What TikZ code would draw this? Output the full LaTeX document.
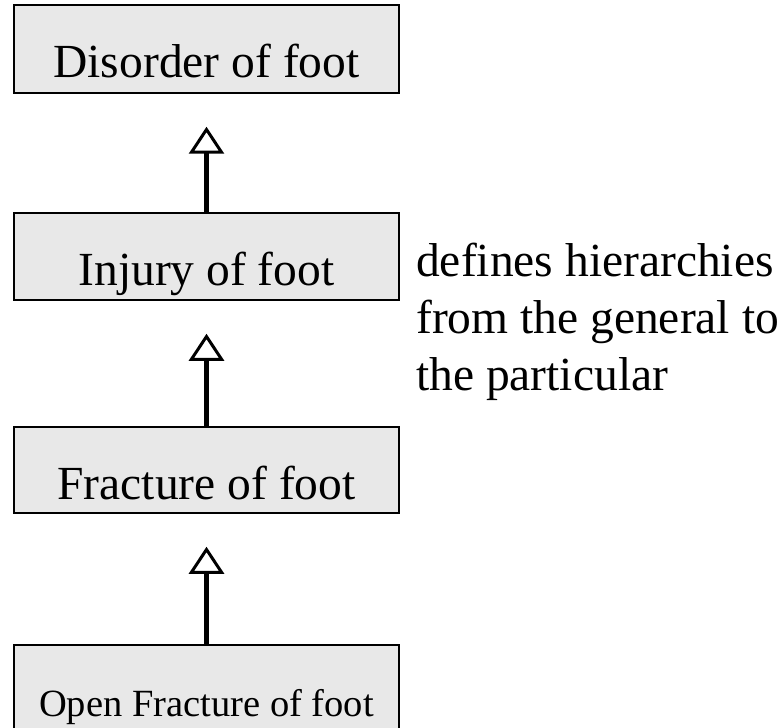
\documentclass[tikz,border=0pt]{standalone}
\usepackage{fontspec}
\setmainfont{Liberation Serif}
\usetikzlibrary{arrows.meta}
\definecolor{boxgray}{RGB}{232,232,232}
\tikzset{
  classbox/.style={draw=black, fill=boxgray, line width=1.5pt, inner sep=0pt,
    minimum width=385pt, minimum height=88pt,
    font=\fontsize{47.5}{57}\selectfont, text height=60pt, text depth=2pt},
  smallbox/.style={classbox, font=\fontsize{38.5}{46}\selectfont, text height=56pt},
  isa/.style={line width=4.5pt, shorten >=33pt,
    -{Triangle[open, width=35pt, length=27pt, line width=3pt]}}
}
\begin{document}
\begin{tikzpicture}[x=1pt, y=-1pt]
\useasboundingbox (0,0) rectangle (783,727);
\node[classbox] (disorder) at (206.5,49) {Disorder of foot};
\node[classbox, minimum height=87pt] (injury) at (206.5,256.5) {Injury of foot};
\node[classbox, minimum height=86pt] (fracture) at (206.5,470) {Fracture of foot};
\node[smallbox] (open) at (206.5,689) {Open Fracture of foot};
\draw[isa] (injury.north) -- (disorder.south);
\draw[isa] (fracture.north) -- (injury.south);
\draw[isa] (open.north) -- (fracture.south);
\node[anchor=north west, inner sep=0pt, align=left,
  font=\fontsize{47.5}{57}\selectfont] (note) at (416,242.5)
  {defines hierarchies\\from the general to\\the particular};
\end{tikzpicture}
\end{document}
